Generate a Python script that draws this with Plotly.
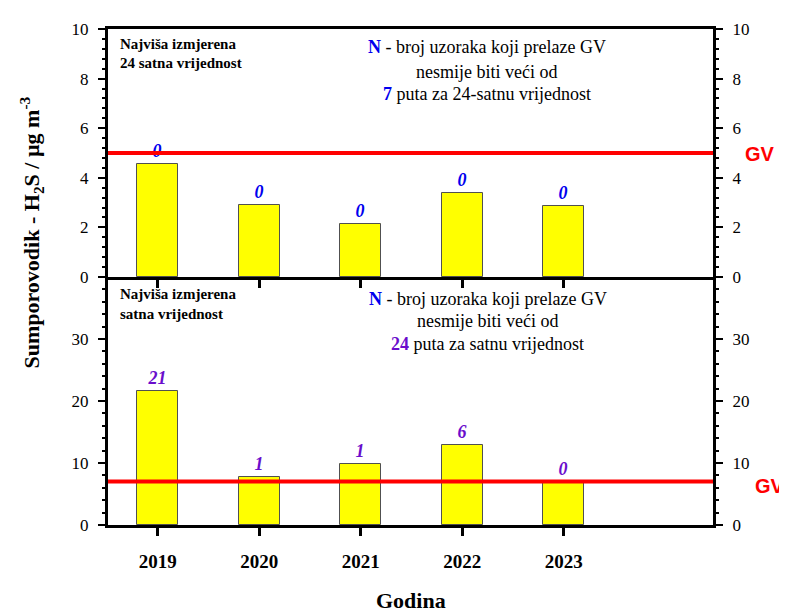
import plotly.graph_objects as go

years = [2019, 2020, 2021, 2022, 2023]
daily_max = [4.55, 2.92, 2.12, 3.4, 2.88]
daily_counts = ["0", "0", "0", "0", "0"]
hourly_max = [21.6, 7.8, 9.8, 12.9, 7.0]
hourly_counts = ["21", "1", "1", "6", "0"]
gv_daily = 5
gv_hourly = 7
top_ticks = [0, 2, 4, 6, 8, 10]
bottom_ticks = [0, 10, 20, 30]

SERIF = "Liberation Serif, Times New Roman, serif"
SANS = "Liberation Sans, Arial, sans-serif"
BLUE = "#0000EE"
PURPLE = "#6A0DCC"

fig = go.Figure()

bar_style = dict(marker=dict(color="#FFFF00", line=dict(color="#505050", width=1)),
                 width=0.4, textposition="outside", cliponaxis=False,
                 constraintext="none", showlegend=False, hoverinfo="x+y")

fig.add_trace(go.Bar(x=years, y=daily_max, text=daily_counts, xaxis="x2", yaxis="y2",
                     textfont=dict(family=SERIF, size=18, color=BLUE, weight="bold", style="italic"),
                     **bar_style))
fig.add_trace(go.Bar(x=years, y=hourly_max, text=hourly_counts, xaxis="x", yaxis="y",
                     textfont=dict(family=SERIF, size=18, color=PURPLE, weight="bold", style="italic"),
                     **bar_style))
# invisible traces for right-side axes
fig.add_trace(go.Scatter(x=[years[0]], y=[1], xaxis="x", yaxis="y3", mode="markers",
                         marker=dict(opacity=0), showlegend=False, hoverinfo="skip"))
fig.add_trace(go.Scatter(x=[years[0]], y=[1], xaxis="x2", yaxis="y4", mode="markers",
                         marker=dict(opacity=0), showlegend=False, hoverinfo="skip"))

xrange = [2018.51, 2024.47]
tickfont = dict(family=SERIF, size=17, color="black")

common_y = dict(showline=True, linecolor="black", linewidth=3, ticks="outside",
                ticklen=7, tickwidth=2, tickcolor="black", tickfont=tickfont,
                showgrid=False, zeroline=False, ticklabelstandoff=6)

fig.update_layout(
    width=779, height=605,
    margin=dict(l=100, r=74, t=14, b=88),
    paper_bgcolor="white", plot_bgcolor="white",
    bargap=0,
    xaxis=dict(domain=[0, 1], anchor="y", range=xrange, tickvals=years,
               ticktext=[str(y) for y in years],
               tickfont=dict(family=SERIF, size=19, color="black", weight="bold"),
               showline=True, linecolor="black", linewidth=3, mirror=False,
               ticks="outside", ticklen=8, tickwidth=2.5, tickcolor="black",
               showgrid=False, zeroline=False, ticklabelstandoff=9),
    xaxis2=dict(domain=[0, 1], anchor="y2", range=xrange, tickvals=years,
                showticklabels=False, showline=True, linecolor="black", linewidth=3,
                mirror=True, ticks="outside", ticklen=8, tickwidth=2.5, tickcolor="black",
                showgrid=False, zeroline=False),
    yaxis=dict(domain=[0, 0.5], anchor="x", range=[0, 40], tickvals=bottom_ticks,
               minor=dict(dtick=2, ticks="outside", ticklen=3, tickwidth=1.5, tickcolor="black"),
               **common_y),
    yaxis2=dict(domain=[0.5, 1], anchor="x2", range=[0, 10], tickvals=top_ticks,
                minor=dict(dtick=0.4, ticks="outside", ticklen=3, tickwidth=1.5, tickcolor="black"),
                **common_y),
    yaxis3=dict(overlaying="y", side="right", anchor="x", range=[0, 40], tickvals=bottom_ticks,
                minor=dict(dtick=2, ticks="outside", ticklen=3, tickwidth=1.5, tickcolor="black"),
                **common_y),
    yaxis4=dict(overlaying="y2", side="right", anchor="x2", range=[0, 10], tickvals=top_ticks,
                minor=dict(dtick=0.4, ticks="outside", ticklen=3, tickwidth=1.5, tickcolor="black"),
                **common_y),
)

# limit value lines
fig.add_shape(type="line", xref="x2 domain", yref="y2", x0=0, x1=1, y0=gv_daily, y1=gv_daily,
              line=dict(color="#FF0000", width=4))
fig.add_shape(type="line", xref="x domain", yref="y", x0=0, x1=1, y0=gv_hourly, y1=gv_hourly,
              line=dict(color="#FF0000", width=4))

ann = []


def line_ann(text, xref, yref, x, y, xanchor, size, bold=False):
    return dict(text=f"<b>{text}</b>" if bold else text, xref=xref, yref=yref, x=x, y=y,
                xanchor=xanchor, yanchor="middle", showarrow=False,
                font=dict(family=SERIF, size=size, color="black"))


# GV labels
ann.append(dict(text="<b>GV</b>", xref="paper", yref="y2", x=1.078, y=gv_daily - 0.05,
                xanchor="center", yanchor="middle", showarrow=False,
                font=dict(family=SANS, size=20, color="#FF0000")))
ann.append(dict(text="<b>GV</b>", xref="paper", yref="y", x=1.094, y=gv_hourly - 0.7,
                xanchor="center", yanchor="middle", showarrow=False,
                font=dict(family=SANS, size=20, color="#FF0000")))

# top panel texts
ann.append(line_ann("Najviša izmjerena", "x2 domain", "y2 domain", 0.0165, 0.94, "left", 15, True))
ann.append(line_ann("24 satna vrijednost", "x2 domain", "y2 domain", 0.0165, 0.862, "left", 15, True))
ann.append(line_ann(f"<b><span style='color:{BLUE}'>N</span></b> - broj uzoraka koji prelaze GV",
                    "x2 domain", "y2 domain", 0.626, 0.926, "center", 18))
ann.append(line_ann("nesmije biti veći od", "x2 domain", "y2 domain", 0.626, 0.828, "center", 18))
ann.append(line_ann(f"<b><span style='color:{BLUE}'>7</span></b> puta za 24-satnu vrijednost",
                    "x2 domain", "y2 domain", 0.626, 0.736, "center", 18))

# bottom panel texts
ann.append(line_ann("Najviša izmjerena", "x domain", "y domain", 0.0165, 0.93, "left", 15, True))
ann.append(line_ann("satna vrijednost", "x domain", "y domain", 0.0165, 0.85, "left", 15, True))
ann.append(line_ann(f"<b><span style='color:{BLUE}'>N</span></b> - broj uzoraka koji prelaze GV",
                    "x domain", "y domain", 0.628, 0.912, "center", 18))
ann.append(line_ann("nesmije biti veći od", "x domain", "y domain", 0.628, 0.821, "center", 18))
ann.append(line_ann(f"<b><span style='color:{PURPLE}'>24</span></b> puta za satnu vrijednost",
                    "x domain", "y domain", 0.628, 0.73, "center", 18))

# axis titles
ann.append(dict(text="<b>Sumporovodik - H<sub>2</sub>S / µg m<sup>-3</sup></b>", xref="paper", yref="paper",
                x=-0.127, y=0.59, xanchor="center", yanchor="middle", textangle=-90, showarrow=False,
                font=dict(family=SERIF, size=22, color="black")))
ann.append(dict(text="<b>Godina</b>", xref="paper", yref="paper", x=0.5, y=-0.152,
                xanchor="center", yanchor="middle", showarrow=False,
                font=dict(family=SERIF, size=22, color="black")))
fig.update_layout(annotations=ann)

fig.write_html("out.html")
